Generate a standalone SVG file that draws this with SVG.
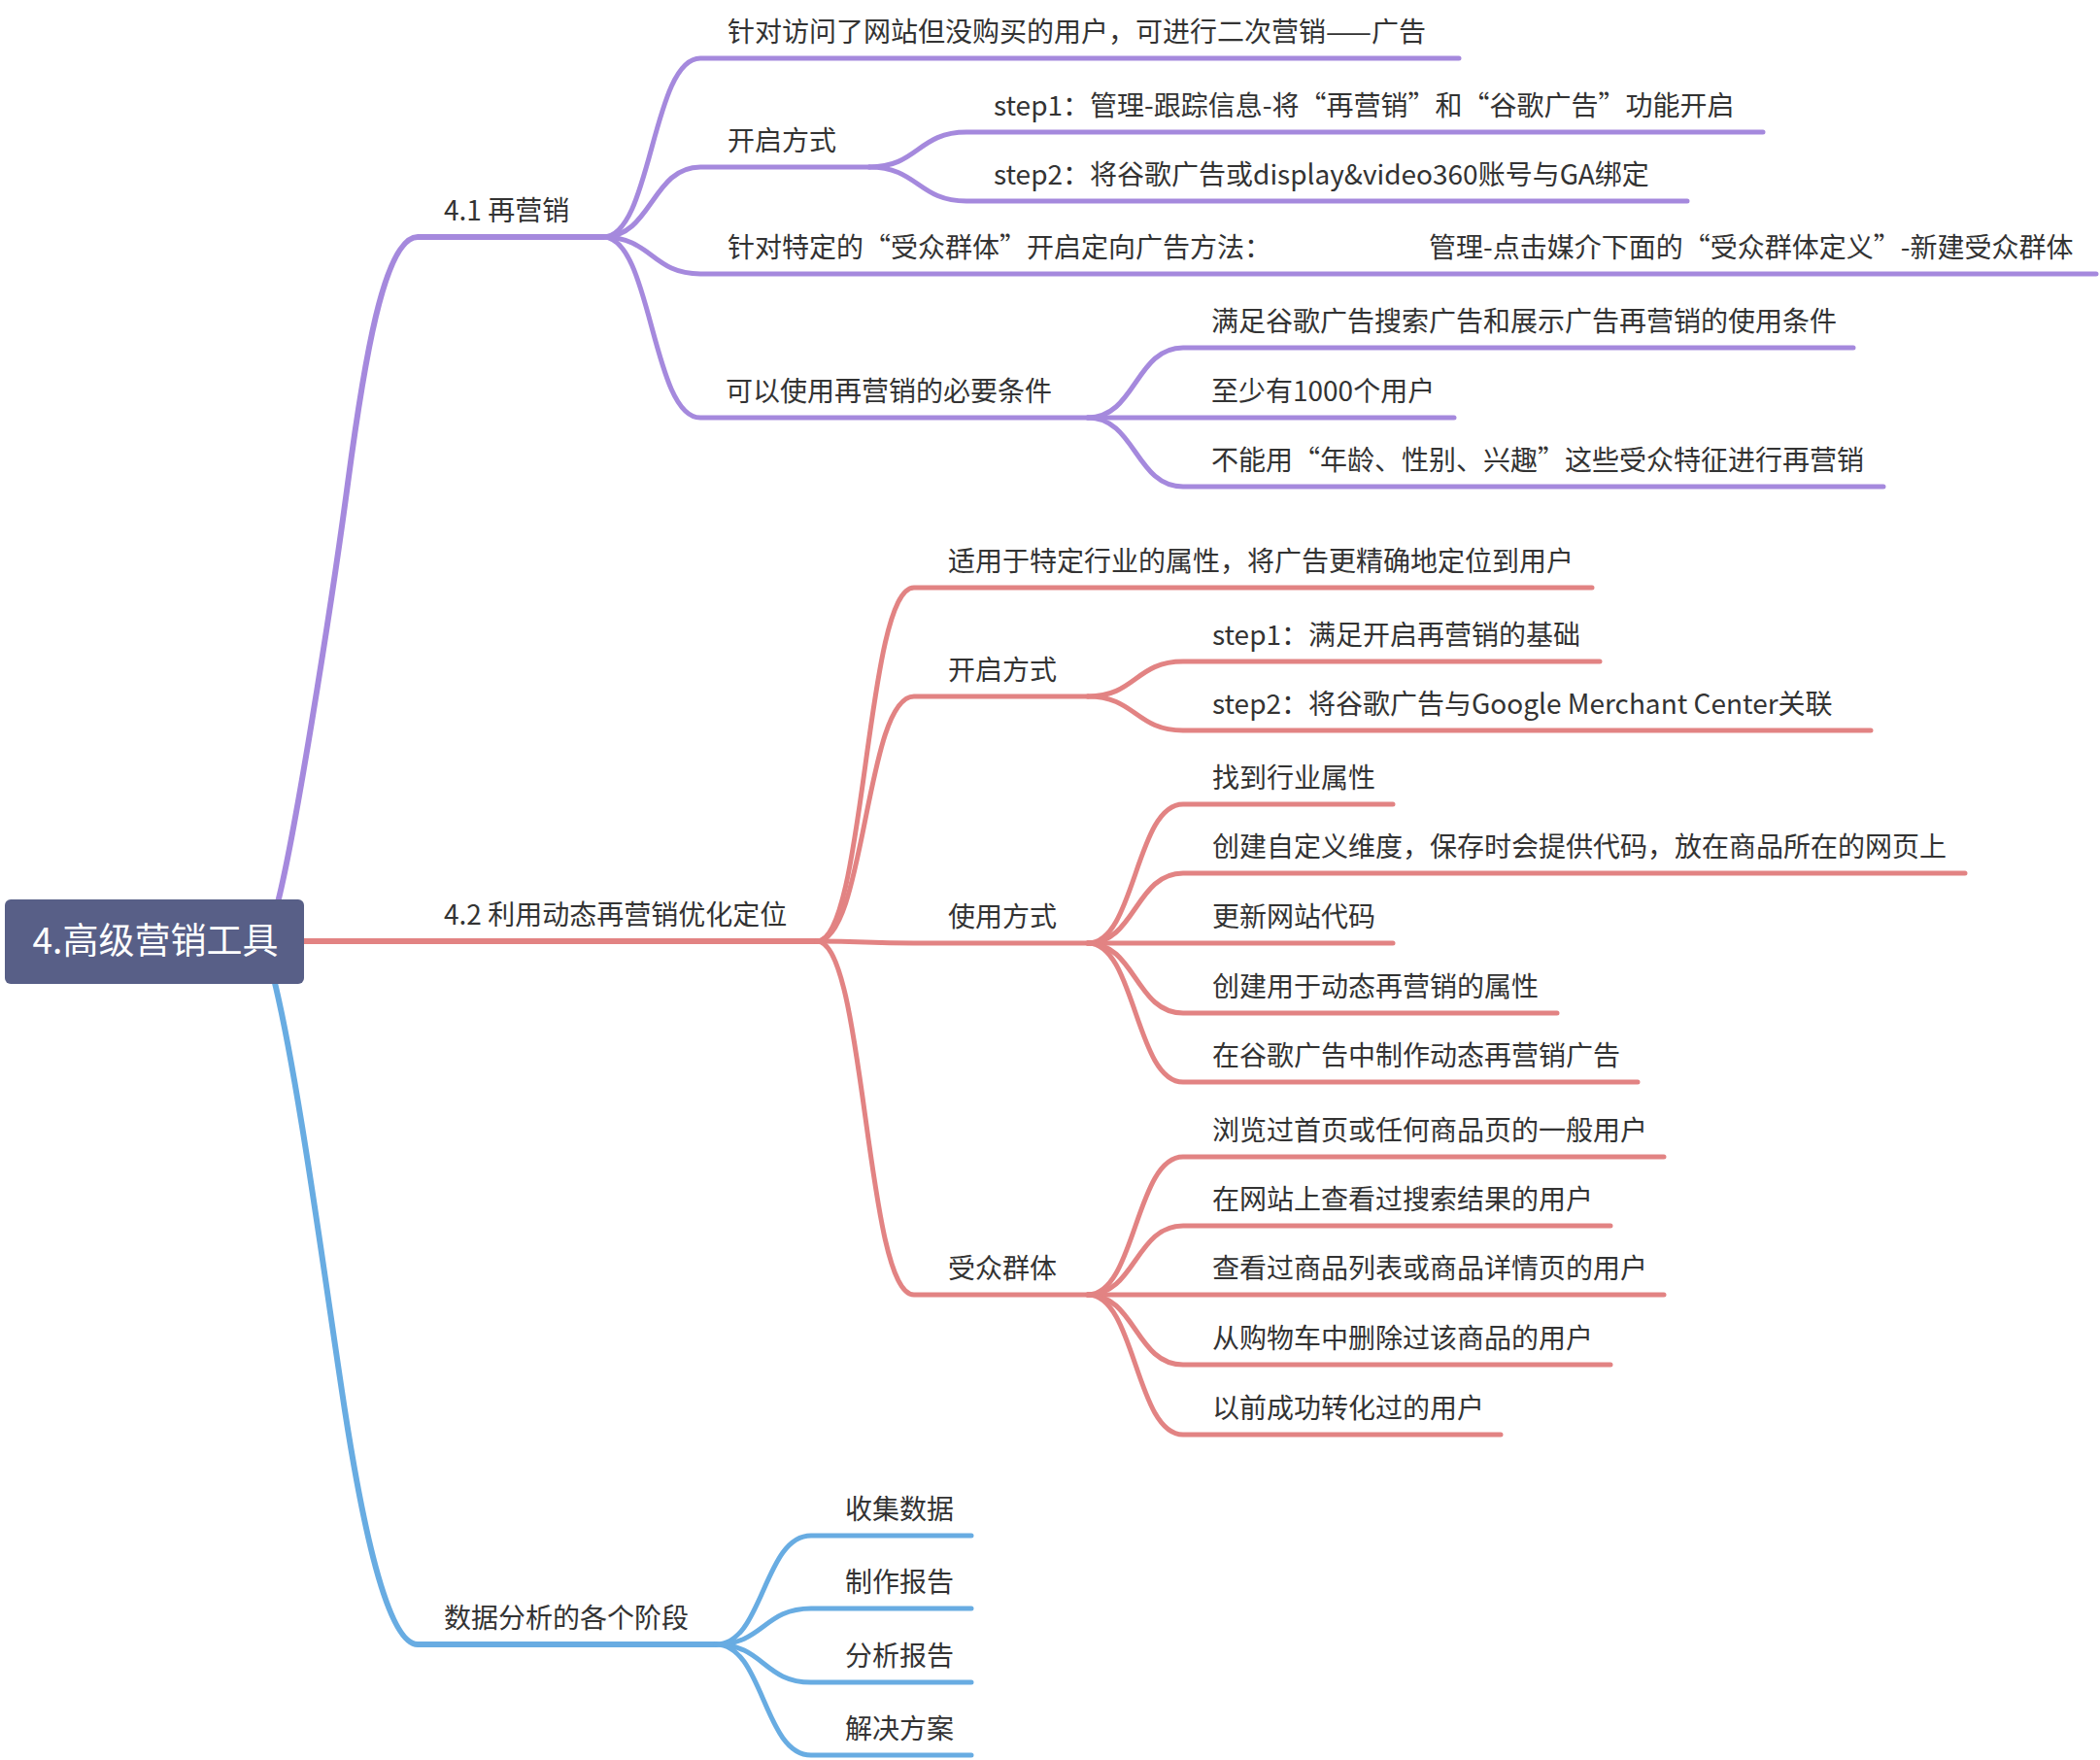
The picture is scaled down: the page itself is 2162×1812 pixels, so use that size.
<svg xmlns="http://www.w3.org/2000/svg" width="2162" height="1812" viewBox="0 0 2162 1812">
<style>
  text { font-family: "Noto Sans CJK SC", "Noto Sans", sans-serif; fill: #333333; font-size: 28px; }
  .root-text { fill: #ffffff; font-size: 37px; text-anchor: middle; }
  .c { fill: none; stroke-linecap: round; stroke-linejoin: round; stroke-width: 5; }
  .l1 { stroke-width: 6; }
  .p { stroke: #a589dd; }
  .r { stroke: #e28383; }
  .b { stroke: #68ace2; }
</style>
<rect width="2162" height="1812" fill="#ffffff"/>
<g id="connectors">
  <!-- purple branch -->
  <path class="c l1 p" d="M283 940 C301 880,342 618,358 498 C374 378,395 244,430 244 L621 244"/>
  <path class="c p" d="M621 244 C671 244,671 60,721 60 L1502 60"/>
  <path class="c p" d="M621 244 C671 244,671 172,721 172 L895 172"/>
  <path class="c p" d="M895 172 C945 172,945 136,995 136 L1815 136"/>
  <path class="c p" d="M895 172 C945 172,945 207,995 207 L1737 207"/>
  <path class="c p" d="M621 244 C671 244,671 282,721 282 L2158 282"/>
  <path class="c p" d="M621 244 C671 244,671 430,721 430 L1120 430"/>
  <path class="c p" d="M1120 430 C1169 430,1169 358,1218 358 L1908 358"/>
  <path class="c p" d="M1120 430 L1497 430"/>
  <path class="c p" d="M1120 430 C1169 430,1169 501,1218 501 L1939 501"/>
  <!-- red branch -->
  <path class="c l1 r" d="M300 969 L841 969"/>
  <path class="c r" d="M841 969 C891 969,891 605,941 605 L1639 605"/>
  <path class="c r" d="M841 969 C891 969,891 717,941 717 L1120 717"/>
  <path class="c r" d="M1120 717 C1169 717,1169 681,1218 681 L1647 681"/>
  <path class="c r" d="M1120 717 C1169 717,1169 752,1218 752 L1926 752"/>
  <path class="c r" d="M841 969 C891 969,891 971,941 971 L1120 971"/>
  <path class="c r" d="M1120 971 C1169 971,1169 828,1218 828 L1434 828"/>
  <path class="c r" d="M1120 971 C1169 971,1169 899,1218 899 L2023 899"/>
  <path class="c r" d="M1120 971 L1434 971"/>
  <path class="c r" d="M1120 971 C1169 971,1169 1043,1218 1043 L1603 1043"/>
  <path class="c r" d="M1120 971 C1169 971,1169 1114,1218 1114 L1686 1114"/>
  <path class="c r" d="M841 969 C891 969,891 1333,941 1333 L1120 1333"/>
  <path class="c r" d="M1120 1333 C1169 1333,1169 1191,1218 1191 L1713 1191"/>
  <path class="c r" d="M1120 1333 C1169 1333,1169 1262,1218 1262 L1658 1262"/>
  <path class="c r" d="M1120 1333 L1713 1333"/>
  <path class="c r" d="M1120 1333 C1169 1333,1169 1405,1218 1405 L1658 1405"/>
  <path class="c r" d="M1120 1333 C1169 1333,1169 1477,1218 1477 L1545 1477"/>
  <!-- blue branch -->
  <path class="c l1 b" d="M280 1000 C306 1100,335 1322,355 1452 C372 1562,398 1693,430 1693 L737 1693"/>
  <path class="c b" d="M737 1693 C786 1693,786 1581,835 1581 L1000 1581"/>
  <path class="c b" d="M737 1693 C786 1693,786 1656,835 1656 L1000 1656"/>
  <path class="c b" d="M737 1693 C786 1693,786 1732,835 1732 L1000 1732"/>
  <path class="c b" d="M737 1693 C786 1693,786 1807,835 1807 L1000 1807"/>
</g>
<g id="root">
  <rect x="5" y="926" width="308" height="87" rx="6" fill="#585f87"/>
  <text class="root-text" x="160" y="982">4.高级营销工具</text>
</g>
<g id="n41"><text x="457" y="227">4.1 再营销</text></g>
<g id="n411"><text x="749" y="43">针对访问了网站但没购买的用户，可进行二次营销——广告</text></g>
<g id="n412"><text x="749" y="155">开启方式</text></g>
<g id="n4121"><text x="1023" y="119">step1：管理-跟踪信息-将“再营销”和“谷歌广告”功能开启</text></g>
<g id="n4122"><text x="1023" y="190">step2：将谷歌广告或display&amp;video360账号与GA绑定</text></g>
<g id="n413"><text x="749" y="265"><tspan x="749">针对特定的“受众群体”开启定向广告方法：</tspan><tspan x="1471">管理-点击媒介下面的“受众群体定义”-新建受众群体</tspan></text></g>
<g id="n414"><text x="747" y="413">可以使用再营销的必要条件</text></g>
<g id="n4141"><text x="1247" y="341">满足谷歌广告搜索广告和展示广告再营销的使用条件</text></g>
<g id="n4142"><text x="1247" y="413">至少有1000个用户</text></g>
<g id="n4143"><text x="1247" y="484">不能用“年龄、性别、兴趣”这些受众特征进行再营销</text></g>

<g id="n42"><text x="457" y="952">4.2 利用动态再营销优化定位</text></g>
<g id="n421"><text x="976" y="588">适用于特定行业的属性，将广告更精确地定位到用户</text></g>
<g id="n422"><text x="976" y="700">开启方式</text></g>
<g id="n4221"><text x="1248" y="664">step1：满足开启再营销的基础</text></g>
<g id="n4222"><text x="1248" y="735">step2：将谷歌广告与Google Merchant Center关联</text></g>
<g id="n423"><text x="976" y="954">使用方式</text></g>
<g id="n4231"><text x="1248" y="811">找到行业属性</text></g>
<g id="n4232"><text x="1248" y="882">创建自定义维度，保存时会提供代码，放在商品所在的网页上</text></g>
<g id="n4233"><text x="1248" y="954">更新网站代码</text></g>
<g id="n4234"><text x="1248" y="1026">创建用于动态再营销的属性</text></g>
<g id="n4235"><text x="1248" y="1097">在谷歌广告中制作动态再营销广告</text></g>
<g id="n424"><text x="976" y="1316">受众群体</text></g>
<g id="n4241"><text x="1248" y="1174">浏览过首页或任何商品页的一般用户</text></g>
<g id="n4242"><text x="1248" y="1245">在网站上查看过搜索结果的用户</text></g>
<g id="n4243"><text x="1248" y="1316">查看过商品列表或商品详情页的用户</text></g>
<g id="n4244"><text x="1248" y="1388">从购物车中删除过该商品的用户</text></g>
<g id="n4245"><text x="1248" y="1460">以前成功转化过的用户</text></g>

<g id="n43"><text x="457" y="1676">数据分析的各个阶段</text></g>
<g id="n431"><text x="870" y="1564">收集数据</text></g>
<g id="n432"><text x="870" y="1639">制作报告</text></g>
<g id="n433"><text x="870" y="1715">分析报告</text></g>
<g id="n434"><text x="870" y="1790">解决方案</text></g>
</svg>
